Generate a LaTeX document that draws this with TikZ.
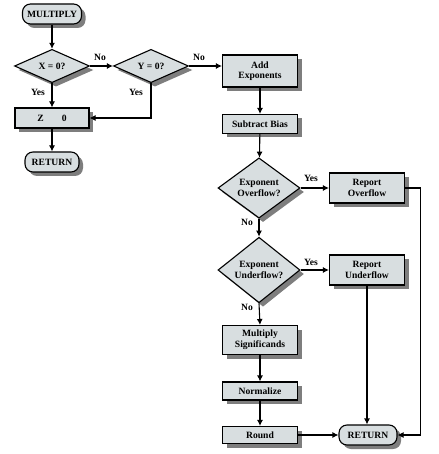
\documentclass[tikz,border=0pt]{standalone}
\usepackage{fontspec}
\setmainfont{Liberation Serif}
\usetikzlibrary{shapes.geometric,shadows,arrows.meta}
\definecolor{boxfill}{HTML}{D8DEE0}
\definecolor{shadowgray}{HTML}{7E7E7E}
\tikzset{
  base/.style={draw=black, line width=1.1pt, fill=boxfill, font=\fontsize{9.6}{10.6}\selectfont\bfseries, align=center, inner sep=1pt,
    drop shadow={shadow xshift=4pt, shadow yshift=-4pt, fill=shadowgray, opacity=1}},
  proc/.style={base, rectangle, minimum width=75pt},
  term/.style={base, rectangle, rounded corners=8pt, minimum height=20pt},
  dec/.style={base, diamond, inner sep=0pt},
  arr/.style={line width=1.1pt, -{Latex[length=6pt,width=6pt]}},
  lbl/.style={font=\fontsize{9.6}{10.6}\selectfont\bfseries, inner sep=0pt}
}
\begin{document}
\begin{tikzpicture}[x=1pt,y=-1pt]
\useasboundingbox[fill=white] (0,0) rectangle (438,454);
\node[term, minimum width=59pt] (mult) at (52,14) {MULTIPLY};
\node[dec, minimum width=75pt, minimum height=32pt] (dx) at (52,66) {X = 0?};
\node[dec, minimum width=75pt, minimum height=32pt] (dy) at (151,66) {Y = 0?};
\node[proc, minimum width=74pt, minimum height=20pt] (z) at (52,118) {Z\hspace{18pt}0};
\node[term, minimum width=54pt] (ret1) at (52,162) {RETURN};
\node[proc, minimum height=32pt] (add) at (260,71) {Add\\Exponents};
\node[proc, minimum height=19pt] (sub) at (260,124) {Subtract Bias};
\node[dec, minimum width=82pt, minimum height=53pt] (dov) at (259,188) {Exponent\\Overflow?};
\node[proc, minimum height=30pt] (rov) at (367,188) {Report\\Overflow};
\node[dec, minimum width=82pt, minimum height=53pt] (dun) at (259,270) {Exponent\\Underflow?};
\node[proc, minimum height=30pt] (run) at (367,270) {Report\\Underflow};
\node[proc, minimum height=29pt] (msig) at (260,340) {Multiply\\Significands};
\node[proc, minimum height=18pt] (norm) at (260,391) {Normalize};
\node[proc, minimum height=17pt] (rnd) at (260,435) {Round};
\node[term, minimum width=58pt] (ret2) at (368,435) {RETURN};

\coordinate (addin) at (add.west |- dy.east);
\draw[arr] (mult) -- (dx);
\draw[arr] (dx.east) -- (dy.west);
\draw[arr] (dy.east) -- (addin);
\draw[arr] (dx.south) -- (z.north);
\draw[arr] (dy.south) |- (z.east);
\draw[arr] (z) -- (ret1);
\draw[arr] (add) -- (sub);
\draw[arr] (sub) -- (dov);
\draw[arr] (dov.east) -- (rov.west);
\draw[arr] (dov.south) -- (dun.north);
\draw[arr] (dun.east) -- (run.west);
\draw[arr] (dun.south) -- (msig.north);
\draw[arr] (msig) -- (norm);
\draw[arr] (norm) -- (rnd);
\draw[arr] (rnd) -- (ret2);
\draw[arr] (run.south) -- (run.south |- ret2.north);
\draw[arr] (rov.east) -- ++(15,0) |- (ret2.east);

\node[lbl] (lno1) at (100,57) {No};
\node[lbl] (lno2) at (199,57) {No};
\node[lbl] (lyes1) at (38,92) {Yes};
\node[lbl] (lyes2) at (136,92) {Yes};
\node[lbl] (lyes3) at (311,178) {Yes};
\node[lbl] (lno3) at (247,222) {No};
\node[lbl] (lyes4) at (311,262) {Yes};
\node[lbl] (lno4) at (247,307) {No};
\end{tikzpicture}
\end{document}
